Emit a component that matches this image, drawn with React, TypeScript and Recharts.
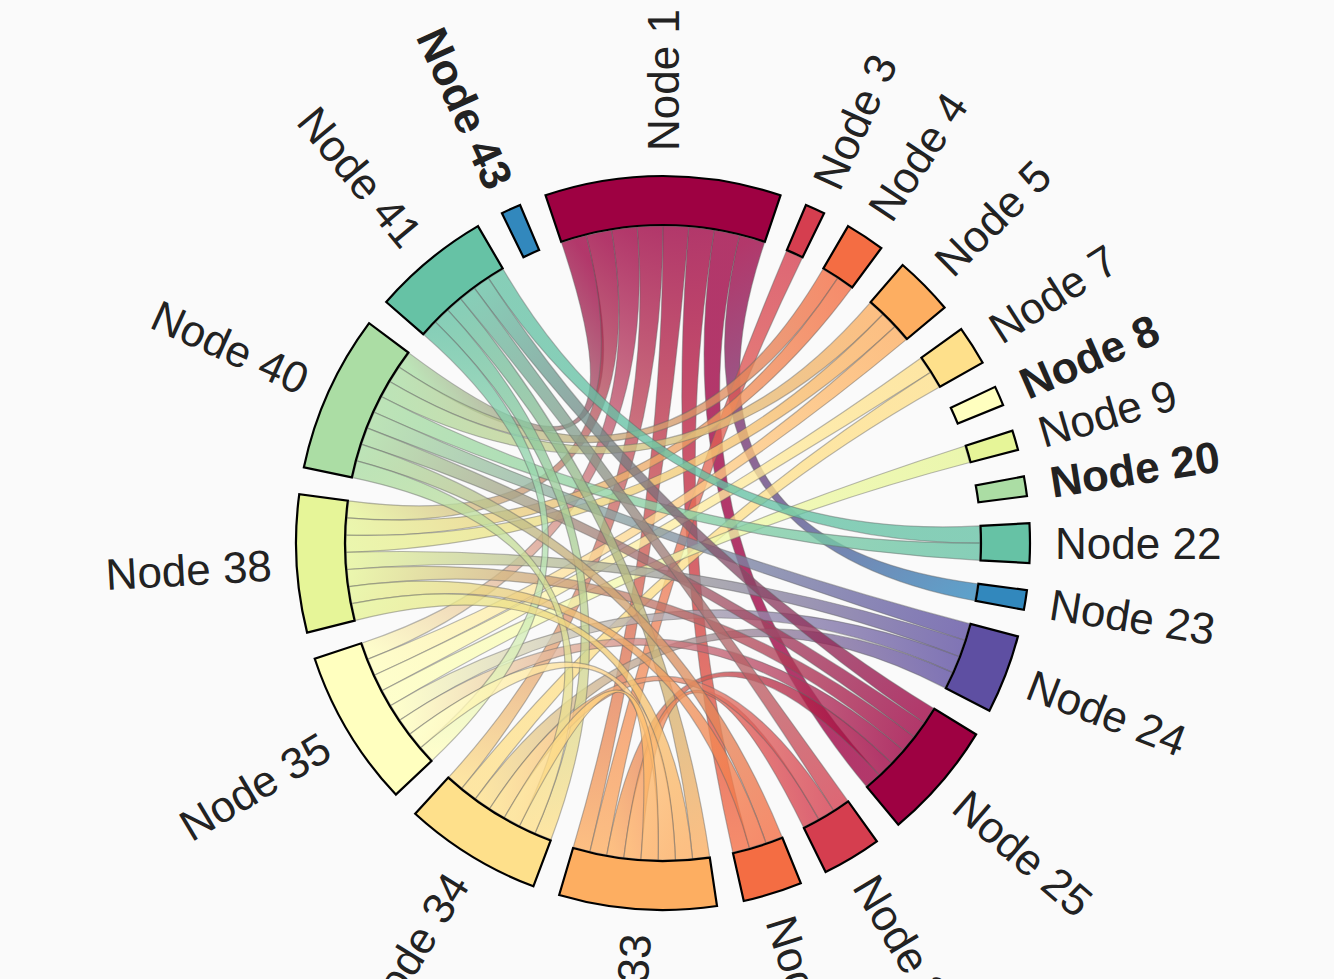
import React from 'react';
import { PieChart, Pie, Cell, Customized } from 'recharts';

// ---------- data ----------
const NODE_NAMES = [
  'Node 1', 'Node 3', 'Node 4', 'Node 5', 'Node 7', 'Node 8', 'Node 9', 'Node 20',
  'Node 22', 'Node 23', 'Node 24', 'Node 25', 'Node 27', 'Node 31', 'Node 33',
  'Node 34', 'Node 35', 'Node 38', 'Node 40', 'Node 41', 'Node 43',
];
const NODE_SIZES = [12, 1, 2, 3, 2, 1, 1, 1, 2, 1, 4, 6, 3, 3, 8, 7, 8, 7, 8, 6, 1];
const NODE_COLORS = [
  '#9e0142', '#d53e4f', '#f46d43', '#fdae61', '#fee08b', '#ffffbf', '#e6f598', '#abdda4',
  '#66c2a5', '#3288bd', '#5e4fa2', '#9e0142', '#d53e4f', '#f46d43', '#fdae61',
  '#fee08b', '#ffffbf', '#e6f598', '#abdda4', '#66c2a5', '#3288bd',
];
const LINK_SOURCES = [
  'Node 1', 'Node 1', 'Node 1', 'Node 1', 'Node 1', 'Node 1', 'Node 1', 'Node 1',
  'Node 3',
  'Node 4', 'Node 4',
  'Node 5', 'Node 5', 'Node 5',
  'Node 7', 'Node 7',
  'Node 9',
  'Node 22', 'Node 22',
  'Node 24', 'Node 24', 'Node 24', 'Node 24',
  'Node 25', 'Node 25', 'Node 25', 'Node 25', 'Node 25',
  'Node 41', 'Node 41', 'Node 41', 'Node 41',
  'Node 27', 'Node 27',
  'Node 31', 'Node 31',
  'Node 34', 'Node 33', 'Node 33', 'Node 33',
];
const LINK_TARGETS = [
  'Node 40', 'Node 38', 'Node 35', 'Node 34', 'Node 33', 'Node 31', 'Node 25', 'Node 23',
  'Node 33',
  'Node 40', 'Node 38',
  'Node 40', 'Node 38', 'Node 35',
  'Node 35', 'Node 34',
  'Node 35',
  'Node 41', 'Node 40',
  'Node 40', 'Node 38', 'Node 35', 'Node 34',
  'Node 41', 'Node 40', 'Node 38', 'Node 35', 'Node 33',
  'Node 33', 'Node 34', 'Node 27', 'Node 35',
  'Node 33', 'Node 34',
  'Node 40', 'Node 38',
  'Node 40', 'Node 38', 'Node 35', 'Node 34',
];

// ---------- layout ----------
const W = 1334;
const H = 979;
const CX = 663;
const CY = 543;
const R_OUT = 367;
const R_IN = 318;
const LABEL_R = 392;
const PAD = 4.25; // degrees between nodes
const START_CW = -18.67; // clockwise degrees from 12 o'clock where Node 1 starts

const nodeData = NODE_NAMES.map((name, i) => ({ name, value: NODE_SIZES[i] }));
const TOTAL = NODE_SIZES.reduce((a, b) => a + b, 0);
const UNIT = (360 - NODE_NAMES.length * PAD) / TOTAL;

// clockwise angle spans of nodes (same arithmetic as the Pie)
const nodeStart: number[] = [];
const nodeEnd: number[] = [];
{
  let a = START_CW;
  NODE_SIZES.forEach((s, i) => {
    nodeStart[i] = a;
    nodeEnd[i] = a + s * UNIT;
    a = nodeEnd[i] + PAD;
  });
}
const nodeMid = nodeStart.map((s, i) => (s + nodeEnd[i]) / 2);
const idx = (n: string) => NODE_NAMES.indexOf(n);

const degree = NODE_NAMES.map(() => 0);
LINK_SOURCES.forEach((s, k) => {
  degree[idx(s)] += 1;
  degree[idx(LINK_TARGETS[k])] += 1;
});

// strips of each node, ordered by descending index of the other node
type End = { link: number; other: number };
const stripSpan: Record<string, [number, number]> = {};
NODE_NAMES.forEach((_, i) => {
  const ends: End[] = [];
  LINK_SOURCES.forEach((s, k) => {
    if (idx(s) === i) ends.push({ link: k, other: idx(LINK_TARGETS[k]) });
    if (idx(LINK_TARGETS[k]) === i) ends.push({ link: k, other: idx(s) });
  });
  ends.sort((a, b) => b.other - a.other);
  const w = ends.length ? (nodeEnd[i] - nodeStart[i]) / ends.length : 0;
  ends.forEach((e, j) => {
    stripSpan[`${e.link}-${i}`] = [nodeStart[i] + j * w, nodeStart[i] + (j + 1) * w];
  });
});

const pt = (theta: number, r: number): [number, number] => {
  const t = (theta * Math.PI) / 180;
  return [CX + r * Math.sin(t), CY - r * Math.cos(t)];
};

const Ribbons = () => {
  const r = R_IN - 1;
  return (
    <g>
      <defs>
        {LINK_SOURCES.map((s, k) => {
          const si = idx(s);
          const ti = idx(LINK_TARGETS[k]);
          const [a0, a1] = stripSpan[`${k}-${si}`];
          const [b0, b1] = stripSpan[`${k}-${ti}`];
          const p = pt((a0 + a1) / 2, r);
          const q = pt((b0 + b1) / 2, r);
          return (
            <linearGradient
              key={k}
              id={`rg${k}`}
              gradientUnits="userSpaceOnUse"
              x1={p[0]}
              y1={p[1]}
              x2={q[0]}
              y2={q[1]}
            >
              <stop offset="0%" stopColor={NODE_COLORS[si]} />
              <stop offset="100%" stopColor={NODE_COLORS[ti]} />
            </linearGradient>
          );
        })}
      </defs>
      {LINK_SOURCES.map((s, k) => {
        const si = idx(s);
        const ti = idx(LINK_TARGETS[k]);
        const [a0, a1] = stripSpan[`${k}-${si}`];
        const [b0, b1] = stripSpan[`${k}-${ti}`];
        const s0 = pt(a0, r);
        const s1 = pt(a1, r);
        const t0 = pt(b0, r);
        const t1 = pt(b1, r);
        const d =
          `M${s0[0]},${s0[1]} A${r},${r} 0 0 1 ${s1[0]},${s1[1]} ` +
          `Q${CX},${CY} ${t0[0]},${t0[1]} A${r},${r} 0 0 1 ${t1[0]},${t1[1]} ` +
          `Q${CX},${CY} ${s0[0]},${s0[1]} Z`;
        return (
          <path
            key={k}
            d={d}
            fill={`url(#rg${k})`}
            fillOpacity={0.78}
            stroke="#666"
            strokeOpacity={0.45}
            strokeWidth={1.2}
          />
        );
      })}
    </g>
  );
};

const renderLabel = (props: any) => {
  const i = props.index;
  const mid = nodeMid[i];
  const th = ((mid % 360) + 360) % 360;
  const right = th < 180 || th > 357;
  const [x, y] = pt(mid, LABEL_R);
  const rot = right ? mid - 90 : mid + 90;
  return (
    <text
      key={`lbl${i}`}
      x={x}
      y={y}
      transform={`rotate(${rot} ${x} ${y})`}
      textAnchor={right ? 'start' : 'end'}
      dominantBaseline="central"
      fontFamily="'Liberation Sans', Arial, Helvetica, sans-serif"
      fontSize={44}
      fontWeight={degree[i] === 0 ? 'bold' : 'normal'}
      fill="#222"
    >
      {NODE_NAMES[i]}
    </text>
  );
};

export default function App() {
  return (
    <div
      style={{
        position: 'absolute',
        left: 0,
        top: 0,
        width: W,
        height: H,
        background: '#fafafa',
        overflow: 'hidden',
      }}
    >
      <PieChart width={W} height={H} margin={{ top: 0, right: 0, bottom: 0, left: 0 }}>
        <Customized component={<Ribbons />} />
        <Pie
          data={nodeData}
          dataKey="value"
          nameKey="name"
          cx={CX}
          cy={CY}
          innerRadius={R_IN}
          outerRadius={R_OUT}
          startAngle={90 - START_CW}
          endAngle={90 - START_CW - 360}
          paddingAngle={PAD}
          stroke="#000"
          strokeWidth={2.2}
          isAnimationActive={false}
          label={renderLabel}
          labelLine={false}
        >
          {nodeData.map((d, i) => (
            <Cell key={d.name} fill={NODE_COLORS[i]} stroke="#000" strokeWidth={2.2} />
          ))}
        </Pie>
      </PieChart>
    </div>
  );
}
